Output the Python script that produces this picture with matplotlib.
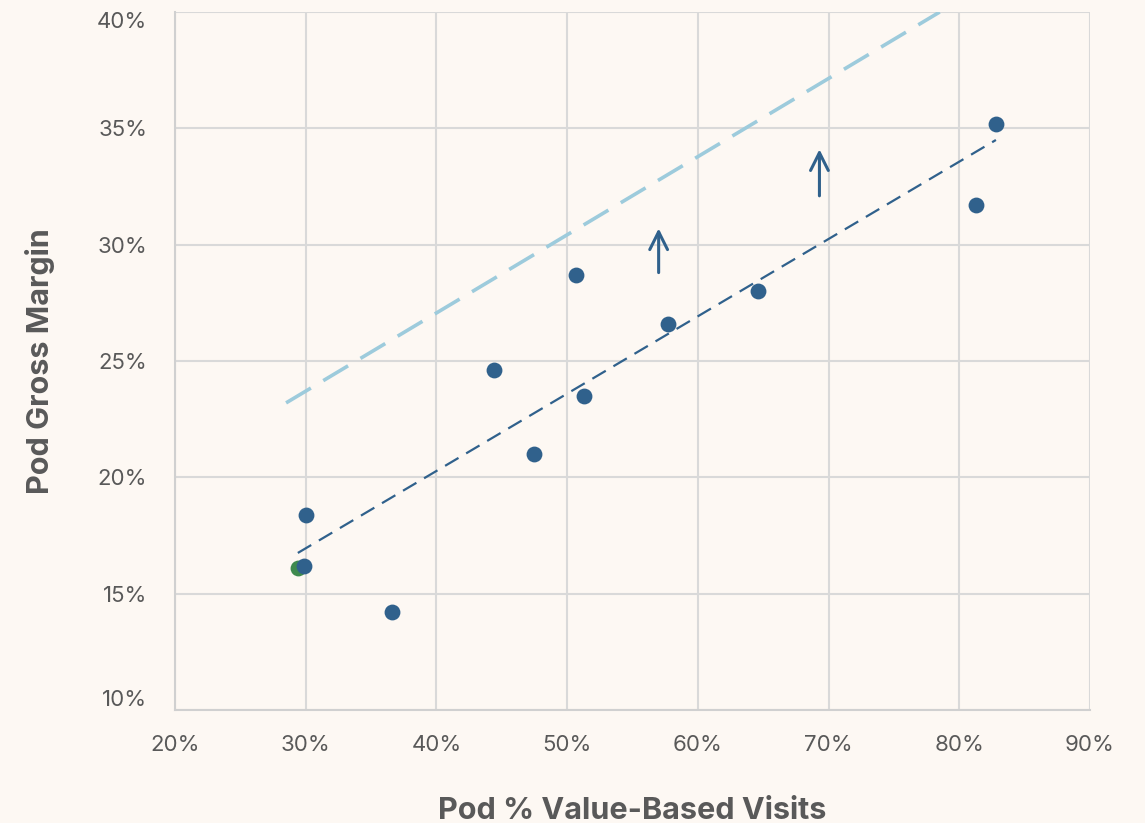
import numpy as np
import matplotlib.pyplot as plt
from matplotlib.ticker import PercentFormatter

# data (percent)
pod_vbv = [30.0, 29.9, 36.6, 44.4, 47.5, 50.7, 51.3, 57.7, 64.6, 81.3, 82.8]
pod_margin = [18.4, 16.2, 14.2, 24.6, 21.0, 28.7, 23.5, 26.6, 28.0, 31.7, 35.2]
highlight_x = [29.4]
highlight_y = [16.1]

trend_x = [29.4, 82.8]
trend_y = [16.75, 34.5]
target_x = [28.5, 78.5]
target_y = [23.2, 40.0]

arrows_x = [57.0, 69.3]
arrows_y0 = [28.8, 32.1]
arrows_y1 = [30.7, 34.1]

bg = '#FDF8F3'
dark = '#30618C'
light = '#9DCBDC'
grey = '#595959'

plt.rcParams['font.family'] = ['Inter', 'DejaVu Sans']

fig = plt.figure(figsize=(11.45, 8.23), dpi=100, facecolor=bg)
ax = fig.add_axes([0.1528, 0.1373, 0.7992, 0.8481])
ax.set_facecolor(bg)

ax.set_xlim(20, 90)
ax.set_ylim(10, 40)
ax.set_xticks(np.arange(20, 91, 10))
ax.set_yticks(np.arange(10, 41, 5))
ax.xaxis.set_major_formatter(PercentFormatter(decimals=0))
ax.yaxis.set_major_formatter(PercentFormatter(decimals=0))
ax.grid(True, color='#D9D9D9', lw=1.5, zorder=0)
for s in ax.spines.values():
    s.set_visible(False)
for side in ['left', 'bottom']:
    ax.spines[side].set_visible(True)
    ax.spines[side].set_color('#D0D0D0')
    ax.spines[side].set_linewidth(1.5)
ax.tick_params(length=0, labelsize=16, labelcolor=grey)
ax.tick_params(axis='y', pad=20)
ax.tick_params(axis='x', pad=18)

# end labels of the y axis sit inside the plot range
ylabels = ax.get_yticklabels()
ylabels[0].set_va('bottom')
ylabels[-1].set_va('top')

ax.plot(target_x, target_y, color=light, lw=2.6, dashes=(8, 4), zorder=2)
ax.plot(trend_x, trend_y, color=dark, lw=1.6, dashes=(7, 4), zorder=2)

ax.scatter(highlight_x, highlight_y, s=130, color='#3E8A4E', zorder=3, lw=0)
ax.scatter(pod_vbv, pod_margin, s=130, color=dark, zorder=4, lw=0)

for x, y0, y1 in zip(arrows_x, arrows_y0, arrows_y1):
    ax.annotate('', xy=(x, y1), xytext=(x, y0),
                arrowprops=dict(arrowstyle='->', color=dark, lw=2.2,
                                mutation_scale=32, shrinkA=0, shrinkB=0))

ax.set_xlabel('Pod % Value-Based Visits', fontsize=22, fontweight='bold',
              color=grey, labelpad=30)
ax.set_ylabel('Pod Gross Margin', fontsize=22, fontweight='bold',
              color=grey, labelpad=30)

fig.savefig('out.png', dpi=100, facecolor=bg)
